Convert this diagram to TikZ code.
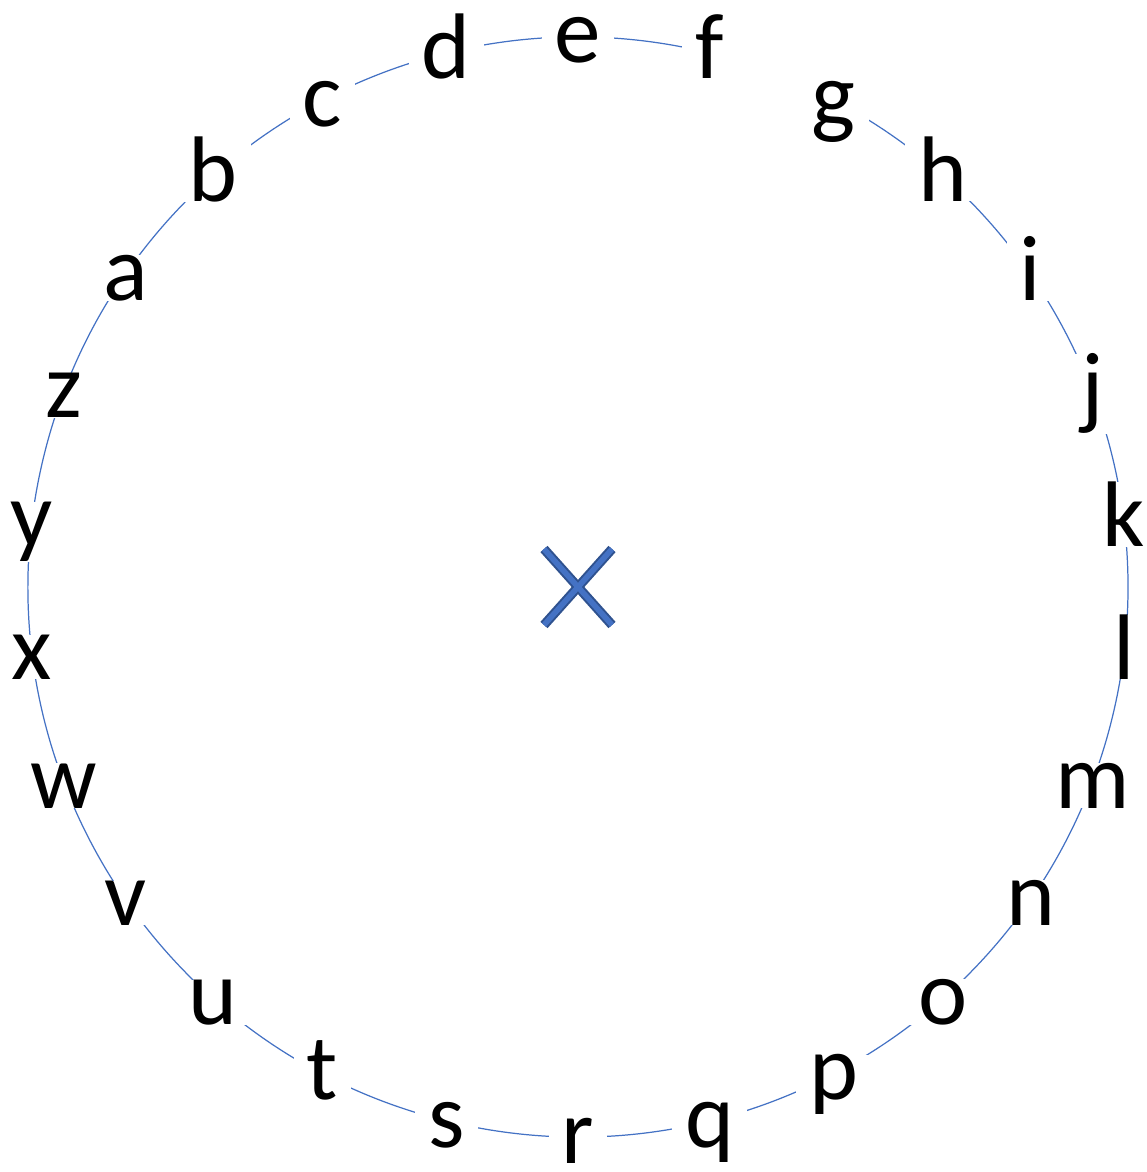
\documentclass[tikz,border=0pt]{standalone}
\usepackage{fontspec}
\setmainfont{Carlito}
\usetikzlibrary{calc}
\definecolor{ringblue}{RGB}{68, 114, 196}
\definecolor{markblue}{RGB}{68, 114, 196}
\definecolor{markedge}{RGB}{47, 82, 143}
\tikzset{
  ring/.style={draw=ringblue, line width=0.7pt},
  letter/.style={fill=white, inner xsep=0.26cm, inner ysep=0pt, anchor=base, yshift=-0.52cm, font=\fontsize{53}{60}\selectfont},
  markouter/.style={draw=markedge, line width=0.19cm},
  markinner/.style={draw=markblue, line width=0.11cm}
}

\begin{document}
\begin{tikzpicture}
    \useasboundingbox (-11.56, 11.74) rectangle (11.36, -11.70);
    \coordinate (centre) at (0, 0);

    % ring of letters (open between f and g)
    \draw[ring] ($(centre) + ({90 - 360/26}:11cm)$) arc[start angle={90 - 360/26}, end angle={450 - 720/26}, radius=11cm];
    \foreach \ch [count=\i from 0] in {a,b,c,d,e,f,g,h,i,j,k,l,m,n,o,p,q,r,s,t,u,v,w,x,y,z} {
        \node[letter] (\ch) at ($(centre) + ({90 + (4 - \i) * 360 / 26}:11cm)$) {\ch};
    }

    % cross in the middle
    \coordinate (m1) at (-0.68, 0.76);
    \coordinate (m2) at (0.68, -0.76);
    \coordinate (m3) at (0.68, 0.76);
    \coordinate (m4) at (-0.68, -0.76);
    \draw[markouter] (m1) -- (m2);
    \draw[markouter] (m3) -- (m4);
    \draw[markinner] (m1) -- (m2);
    \draw[markinner] (m3) -- (m4);
\end{tikzpicture}
\end{document}
